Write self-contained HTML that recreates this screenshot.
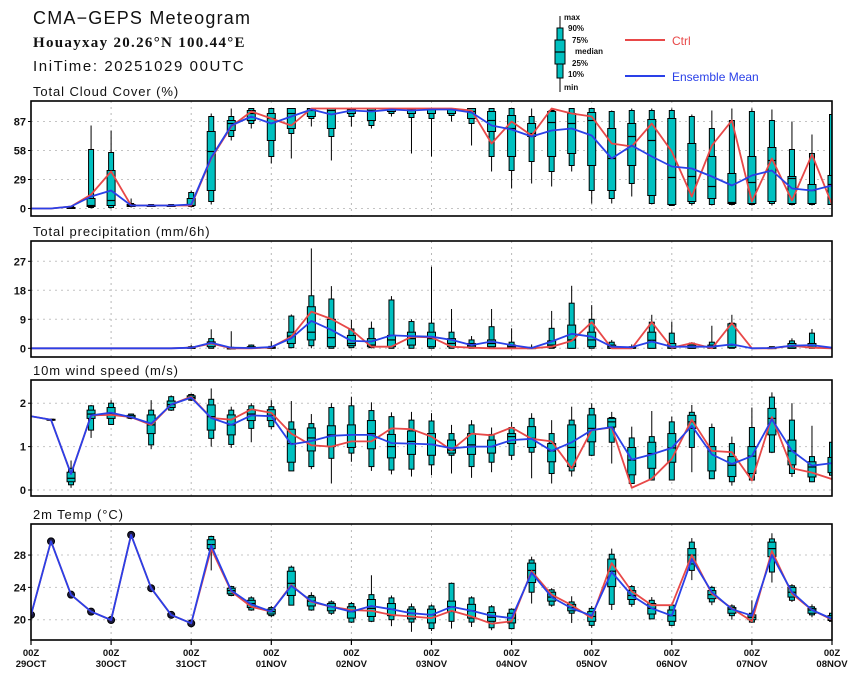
<!DOCTYPE html>
<html><head><meta charset="utf-8"><style>
html,body{margin:0;padding:0;background:#fff;}
svg{display:block;font-family:"Liberation Sans",sans-serif;}
</style></head><body>
<svg id="chart" width="860" height="678" viewBox="0 0 860 678" xmlns="http://www.w3.org/2000/svg">
<text x="33" y="24" font-size="18" letter-spacing="1.2" fill="#111">CMA−GEPS Meteogram</text>
<text x="33" y="47" font-size="15" letter-spacing="1.3" fill="#111" font-family="Liberation Serif, serif" font-weight="bold">Houayxay 20.26°N 100.44°E</text>
<text x="33" y="71" font-size="15" letter-spacing="1.6" fill="#111">IniTime: 20251029 00UTC</text>
<g>
<line x1="560" y1="16" x2="560" y2="92" stroke="#000" stroke-width="1"/>
<rect x="557" y="28" width="6" height="50" fill="#00c0c0" stroke="#000"/>
<rect x="555" y="40" width="10" height="24" fill="#00c0c0" stroke="#000"/>
<line x1="555" y1="52" x2="565" y2="52" stroke="#000" stroke-width="1.2"/>
<g font-size="8" font-weight="bold" fill="#111">
<text x="564" y="20">max</text><text x="568" y="31">90%</text><text x="572" y="43">75%</text>
<text x="575" y="54">median</text><text x="572" y="66">25%</text><text x="568" y="77">10%</text><text x="564" y="90">min</text></g>
<line x1="625" y1="40" x2="665" y2="40" stroke="#e84848" stroke-width="2"/>
<text x="672" y="45" font-size="12" fill="#e84848">Ctrl</text>
<line x1="625" y1="76" x2="665" y2="76" stroke="#2a40e8" stroke-width="2"/>
<text x="672" y="81" font-size="12" fill="#2a40e8">Ensemble Mean</text>
</g>
</svg>
<script>
// ---- data (41 steps, 6-hourly from 29OCT 00Z) ----
const dayLabels=["29OCT","30OCT","31OCT","01NOV","02NOV","03NOV","04NOV","05NOV","06NOV","07NOV","08NOV"];
const cloudTicks=[0,29,58,87];
const precipTicks=[0,9,18,27];
const windTicks=[0,1,2];
const tempTicks=[20,24,28];
const cloudBoxes=[null,null,[0,0,0,1,1,2,2],[0,1,2,3,10,59,83],[0,1,3,8,38,56,78],[1,2,2,3,4,5,10],[2,2,3,3,3,4,4],[2,2,3,3,3,4,4],[1,2,3,3,10,16,18],[4,7,18,57,77,92,95],[68,72,78,85,88,92,100],[80,85,88,95,98,100,100],[45,52,68,90,95,100,100],[50,75,80,95,100,100,100],[82,90,92,98,100,100,100],[48,72,80,98,100,100,100],[82,92,95,99,100,100,100],[80,83,88,98,100,100,100],[92,95,97,99,100,100,100],[55,91,95,99,100,100,100],[52,90,95,99,100,100,100],[87,93,95,99,100,100,100],[63,85,90,97,100,100,100],[37,52,77,88,97,100,100],[20,38,52,80,93,100,100],[25,47,72,75,85,92,100],[22,37,52,86,97,98,100],[37,43,55,85,95,100,100],[5,18,43,88,96,100,100],[5,10,18,50,80,97,98],[12,25,43,72,85,98,100],[4,5,13,68,89,98,100],[3,3,4,31,90,98,100],[3,5,7,32,65,92,94],[3,4,10,22,52,80,98],[3,4,5,6,35,88,100],[3,4,5,26,52,97,100],[3,5,7,48,61,88,99],[3,4,5,30,32,59,87],[3,4,5,18,24,55,74],[3,4,4,24,33,94,100]];
const cloudCtrl=[0,0,2,14,37,3,3,3,3,50,82,97,90,83,100,100,100,100,100,100,100,100,98,65,87,73,100,95,92,65,62,85,57,12,63,88,7,50,8,54,4];
const cloudMean=[0,0,2,12,18,3,3,3,4,51,83,92,85,92,99,94,98,97,99,98,99,99,96,83,79,72,78,80,73,50,63,52,42,40,32,23,33,38,20,18,23];
const precipBoxes=[null,null,null,null,null,null,null,null,[0,0,0,0,0.3,0.5,1],[0,0,0.5,1.5,2,3,5.9],[0,0,0,0,0.1,0.3,5.3],[0,0,0,0.2,0.5,1,1.2],[0,0,0,0.2,0.4,0.6,2.2],[0,0.2,1.5,3.8,5,10,10.5],[0,0.8,2.6,5,12.9,16.3,31],[0,0,0.5,3.3,9,15.3,19.3],[0,0.2,0.8,1.5,4,6,8.8],[0,0.2,0.5,1,3,6.2,8.3],[0,0,0.5,2.6,4,15,16.2],[0,0,1,3,5,8.3,9],[0,0,0.5,3,5,7.8,25.3],[0,0,0.5,1.5,3,5,12.2],[0,0,0.3,0.8,1.5,2.6,3.8],[0,0,0.5,1.5,2.6,6.7,12.2],[0,0,0.2,0.5,1,1.9,6.2],[0,0,0,0.1,0.2,0.3,1.2],[0,0,0.3,1,2.3,6.2,11.6],[0,0,0,2.6,7.2,14,19.4],[0,0,0.5,2.6,5,9,13.4],[0,0,0,0.5,1,1.9,2.6],[0,0,0,0.2,0.4,0.5,1.2],[0,0,0,2.5,5,8.1,10.4],[0,0,0,0.5,1.5,4.7,8.3],[0,0,0,0.5,1,1.6,1.9],[0,0,0,0.5,1,1.9,7],[0,0,0.2,1,7.6,7.8,10.4],null,[0,0,0,0,0.2,0.5,0.5],[0,0,0,0.5,1.5,2.3,3.1],[0,0,0.2,0.8,1.5,4.7,6],null];
const precipCtrl=[0,0,0,0,0,0,0,0,0.2,1.5,0,0,0.3,3.6,11.4,9.1,5.7,0.5,0.5,3.6,3.4,0.5,0.2,0,0,0,0.5,2.3,8.1,0,0,8.1,0.2,1.6,0,7.8,0,0,0.8,0.2,0];
const precipMean=[0,0,0,0,0,0,0,0,0.2,1.7,0.2,0.1,0.4,3.1,8.5,5.7,2.3,2.1,4,3.8,3.6,2.6,1,2.1,1,0.1,2.1,4.5,3.6,0.5,0.3,2.1,0.5,0.5,0.5,1.2,0,0.1,0.8,1,0.2];
const windBoxes=[null,[1.6,1.61,1.61,1.62,1.63,1.63,1.64],[0.05,0.12,0.19,0.27,0.41,0.5,0.68],[1.2,1.38,1.65,1.75,1.84,1.94,1.96],[1.5,1.51,1.65,1.75,1.9,2.0,2.07],[1.63,1.65,1.66,1.68,1.72,1.75,1.76],[0.94,1.04,1.3,1.5,1.73,1.84,2.07],[1.82,1.84,1.9,1.97,2.05,2.15,2.18],[2.05,2.07,2.1,2.13,2.17,2.2,2.22],[1,1.19,1.38,1.69,1.96,2.09,2.34],[0.97,1.05,1.27,1.5,1.73,1.84,1.92],[1.1,1.42,1.6,1.75,1.85,1.94,2.0],[1.4,1.46,1.6,1.72,1.85,1.92,2.07],[0.44,0.44,0.64,1.07,1.4,1.57,2.05],[0.48,0.54,0.9,1.2,1.43,1.53,1.75],[0.15,0.73,1.0,1.27,1.48,1.9,2.0],[0.65,0.85,0.98,1.27,1.5,1.94,2.15],[0.44,0.54,0.95,1.3,1.6,1.83,2.02],[0.36,0.46,0.74,1.0,1.28,1.69,1.79],[0.31,0.48,0.82,1.12,1.36,1.61,1.8],[0.34,0.58,0.8,1.05,1.3,1.59,1.77],[0.38,0.8,0.85,0.92,1.15,1.3,1.5],[0.28,0.54,0.82,1.04,1.3,1.5,1.61],[0.41,0.64,0.85,1.0,1.15,1.28,1.44],[0.69,0.8,1.07,1.23,1.3,1.44,1.57],[0.27,0.87,0.98,1.19,1.46,1.65,1.77],[0.15,0.38,0.65,0.9,1.07,1.3,1.61],[0.31,0.44,0.54,0.98,1.5,1.61,1.92],[0.78,0.8,1.11,1.42,1.73,1.88,2.0],[0.61,1.1,1.45,1.57,1.65,1.67,1.8],[0.15,0.15,0.35,0.69,0.98,1.2,1.46],[0.23,0.23,0.5,0.84,1.1,1.23,1.82],[0.23,0.23,0.64,0.97,1.3,1.57,1.69],[0.41,0.98,1.42,1.57,1.72,1.79,1.96],[0.26,0.26,0.44,0.9,1.0,1.44,1.53],[0.1,0.19,0.31,0.57,0.77,1.07,1.23],[0.2,0.23,0.38,0.78,1.0,1.44,1.9],[0.85,0.87,1.27,1.65,1.88,2.14,2.25],[0.3,0.38,0.58,0.9,1.15,1.61,2.0],[0.18,0.19,0.3,0.53,0.65,0.77,1.48],[0.3,0.34,0.4,0.62,0.75,1.1,1.1]];
const windCtrl=[1.7,1.62,0.37,1.72,1.73,1.68,1.5,1.97,2.15,1.66,1.62,1.86,1.78,1.3,1.03,1.0,1.12,1.12,1.42,1.4,1.23,0.92,1.3,1.26,1.44,1.18,1.12,0.5,1.38,1.44,0.05,0.26,0.72,1.62,0.9,0.87,0.22,1.68,0.5,0.4,0.25];
const windMean=[1.7,1.62,0.37,1.72,1.78,1.68,1.53,1.97,2.13,1.66,1.5,1.72,1.7,1.05,1.13,1.25,1.27,1.27,1.08,1.07,1.05,0.96,1.0,1.0,1.15,1.18,0.9,1.1,1.38,1.45,0.7,0.82,0.97,1.48,0.82,0.6,0.78,1.63,0.9,0.56,0.62];
const tempBoxes=[null,null,null,null,null,null,null,null,null,[26.1,28.6,28.8,29.3,29.9,30.3,30.4],[22.9,23.0,23.2,23.6,23.9,24.1,24.2],[21.1,21.2,21.5,22.0,22.4,22.7,22.9],[20.3,20.5,20.7,21.0,21.3,21.5,21.7],[21.8,21.8,23.0,24.5,26.0,26.5,26.7],[21.1,21.2,21.7,22.3,22.8,23.0,23.4],[20.6,20.8,21.1,21.6,22.0,22.2,22.4],[19.6,19.7,20.2,21.0,21.6,22.0,22.2],[19.7,19.8,20.4,21.4,22.5,23.1,25.5],[19.2,20.0,20.5,21.3,22.0,22.7,23.0],[18.5,19.7,20.1,20.8,21.3,21.6,22.0],[18.6,18.9,19.6,20.6,21.3,21.7,21.9],[18.9,19.8,21.0,21.6,22.3,24.5,24.6],[19.1,19.7,20.2,21.1,21.9,22.7,22.9],[18.7,19.0,19.8,20.3,20.9,21.6,21.8],[18.8,18.9,19.6,20.2,20.8,21.3,21.4],[22.0,23.4,24.6,26.1,27.0,27.4,27.8],[21.6,21.8,22.3,22.8,23.4,23.7,23.9],[19.6,20.8,21.1,21.5,21.9,22.2,22.9],[19.0,19.3,19.8,20.4,21.0,21.4,21.7],[21.2,21.9,24.1,26.0,27.5,28.1,28.8],[21.6,21.9,22.5,23.0,23.6,24.1,24.3],[20.1,20.1,20.7,21.4,22.0,22.4,22.8],[19.2,19.3,19.8,20.5,21.2,21.8,22.0],[24.9,26.1,26.9,28.0,28.8,29.6,30.1],[21.8,22.2,22.6,23.1,23.6,24.0,24.2],[20.0,20.5,20.8,21.3,21.5,21.7,21.9],[19.6,19.7,20.0,20.3,20.6,20.8,22.4],[24.6,25.9,27.8,28.8,29.6,30.0,30.7],[22.2,22.4,22.8,23.4,24.0,24.2,24.4],[20.3,20.6,20.8,21.2,21.4,21.6,21.9],[19.7,19.8,19.9,20.1,20.5,20.8,20.9]];
const tempCtrl=[20.6,29.7,23.1,21.0,19.96,30.5,23.9,20.6,19.55,28.8,23.5,21.6,21.0,24.3,22.2,21.6,21.2,21.1,20.6,20.4,20.2,21.1,20.4,19.5,19.8,26.0,23.1,21.8,20.2,27.0,23.5,21.8,21.8,28.0,23.2,21.4,19.8,28.5,23.2,21.2,20.0];
const tempMean=[20.6,29.7,23.1,21.0,19.96,30.5,23.9,20.6,19.55,29.2,23.6,21.9,21.0,24.2,22.3,21.6,21.0,21.7,21.3,20.8,20.6,21.6,21.1,20.5,20.2,25.8,22.8,21.4,20.5,25.9,23.0,21.4,20.5,27.5,23.4,21.3,20.5,28.0,23.4,21.2,20.1];

const NS="http://www.w3.org/2000/svg";
const svg=document.getElementById("chart");
const X0=31,X1=832,NSTEP=40;
function xs(i){return X0+(X1-X0)*i/NSTEP;}
function mk(tag,attrs,parent){const e=document.createElementNS(NS,tag);for(const k in attrs)e.setAttribute(k,attrs[k]);(parent||svg).appendChild(e);return e;}

const panels=[
 {name:"cloud",title:"Total Cloud Cover (%)",top:101,bot:216,v0:0,y0:208.5,ppu:1.0,ticks:cloudTicks,boxes:cloudBoxes,ctrl:cloudCtrl,mean:cloudMean},
 {name:"precip",title:"Total precipitation (mm/6h)",top:241,bot:357,v0:0,y0:348.3,ppu:29/9,ticks:precipTicks,boxes:precipBoxes,ctrl:precipCtrl,mean:precipMean},
 {name:"wind",title:"10m wind speed (m/s)",top:380,bot:496,v0:0,y0:490,ppu:43.4,ticks:windTicks,boxes:windBoxes,ctrl:windCtrl,mean:windMean},
 {name:"temp",title:"2m Temp (°C)",top:524,bot:640,v0:20,y0:619.7,ppu:8.08,ticks:tempTicks,boxes:tempBoxes,ctrl:tempCtrl,mean:tempMean}
];

panels.forEach((p,pi)=>{
  const ys=v=>p.y0-(v-p.v0)*p.ppu;
  const g=mk("g",{});
  
  
  const cid="clip"+pi;
  const cp=mk("clipPath",{id:cid},g);
  mk("rect",{x:X0,y:p.top,width:X1-X0,height:p.bot-p.top},cp);
  const t=mk("text",{x:33,y:p.top-5,"font-size":"13","letter-spacing":"0.9",fill:"#111"},g);
  t.textContent=p.title;
  
  
  for(let d=1;d<dayLabels.length-1;d++){
    const l=mk("line",{x1:xs(d*4),x2:xs(d*4),y1:p.top,y2:p.bot,stroke:"#b8b8b8","stroke-dasharray":"2,4","stroke-width":"1"},g);
    
    
  }
  p.ticks.forEach(tv=>{
    const y=ys(tv);
    const l=mk("line",{x1:X0,x2:X1,y1:y,y2:y,stroke:"#c4c4c4","stroke-dasharray":"2,4","stroke-width":"1"},g);
    
    
    mk("line",{x1:X0-3,x2:X0,y1:y,y2:y,stroke:"#000"},g);
    const tl=mk("text",{x:X0-5,y:y+4,"font-size":"11","font-weight":"bold","text-anchor":"end",fill:"#111"},g);
    tl.textContent=tv;
    
    
  });
  const mg=mk("g",{"clip-path":"url(#"+cid+")"},g);
  p.boxes.forEach((b,i)=>{
    const x=xs(i);
    if(!b){
      if(p.name==="temp"){
        const c=mk("circle",{cx:x,cy:ys(p.mean[i]),r:3.5,fill:"#1a1a40",stroke:"#000"},mg);
        
        
      }
      return;
    }
    const bg=mk("g",{},mg);
    
    
    mk("line",{x1:x,x2:x,y1:ys(b[0]),y2:ys(b[6]),stroke:"#000","stroke-width":"1"},bg);
    mk("rect",{x:x-2.5,y:ys(b[5]),width:5,height:Math.max(1,ys(b[1])-ys(b[5])),fill:"#00c0c0",stroke:"#000","stroke-width":"1"},bg);
    mk("rect",{x:x-4,y:ys(b[4]),width:8,height:Math.max(1,ys(b[2])-ys(b[4])),fill:"#00c0c0",stroke:"#000","stroke-width":"1"},bg);
    mk("line",{x1:x-4,x2:x+4,y1:ys(b[3]),y2:ys(b[3]),stroke:"#000","stroke-width":"1.2"},bg);
  });
  const pts=arr=>arr.map((v,i)=>xs(i).toFixed(1)+","+ys(v).toFixed(1)).join(" ");
  const cl=mk("polyline",{points:pts(p.ctrl),fill:"none",stroke:"#e84848","stroke-width":"1.8","stroke-linejoin":"round"},mg);
  
  
  const ml=mk("polyline",{points:pts(p.mean),fill:"none",stroke:"#2a40e8","stroke-width":"1.8","stroke-linejoin":"round"},mg);
  
  
  const fr=mk("rect",{x:X0,y:p.top,width:X1-X0,height:p.bot-p.top,fill:"none",stroke:"#000","stroke-width":"1.6"},g);
  
  
  if(pi===3){
    dayLabels.forEach((d,k)=>{
      const x=xs(k*4);
      mk("line",{x1:x,x2:x,y1:p.bot,y2:p.bot+5,stroke:"#000","stroke-width":"1.2"},g);
      const a=mk("text",{x:x,y:p.bot+16,"font-size":"9.5","font-weight":"bold","text-anchor":"middle",fill:"#111"},g);
      a.textContent="00Z";
      
      
      const b2=mk("text",{x:x,y:p.bot+27,"font-size":"9.5","font-weight":"bold","text-anchor":"middle",fill:"#111"},g);
      b2.textContent=d;
      
      
    });
  }
});
</script>
</body></html>
